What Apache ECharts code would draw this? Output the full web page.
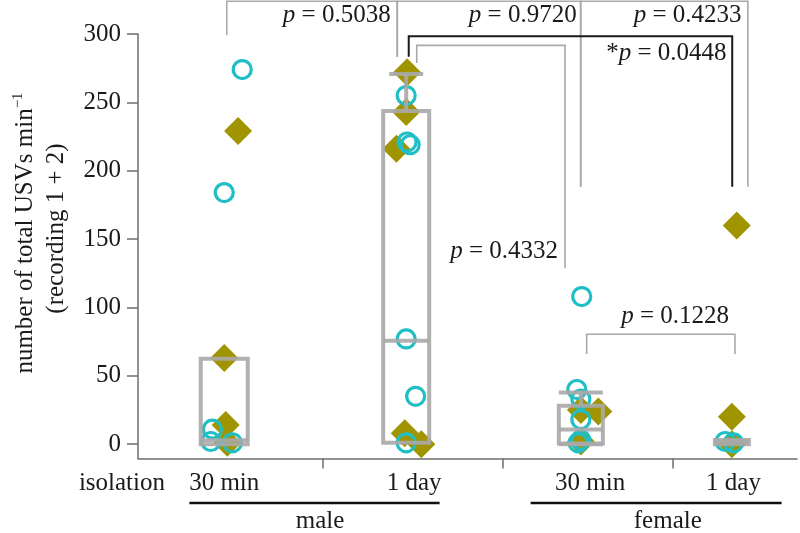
<!DOCTYPE html>
<html><head><meta charset="utf-8">
<script src="https://cdn.jsdelivr.net/npm/echarts@6/dist/echarts.min.js"></script>
<style>html,body{margin:0;padding:0;background:#fff}#c{width:800px;height:533px}</style>
</head><body><div id="c"></div>
<script>
// ---- categories / axis ----
const groupNames = ['30 min', '1 day', '30 min', '1 day'];
const groupX = [1, 2, 2.96, 3.79];
const labelX = [1, 2.044, 3.011, 3.799];
const tickX = [1.539, 2.533, 3.465];
const yTicks = [0, 50, 100, 150, 200, 250, 300];

// ---- open circles ----
const circleGroup  = [0, 0, 0, 0, 0,   1, 1, 1, 1, 1, 1,   2, 2, 2, 2, 2, 2,   3, 3];
const circleValue  = [274, 184, 11, 2, 1,   255, 221, 219, 77, 35, 1,   108, 40, 33, 18, 3, 1,   2, 1];
const circleJitter = [0.099, 0, -0.065, -0.074, 0.045,   0, 0.005, 0.022, 0, 0.052, 0,   0.005, -0.022, 0, 0, 0, -0.015,   -0.037, 0.009];

// ---- diamonds ----
const diamondGroup  = [0, 0, 0, 0,   1, 1, 1, 1, 1,   2, 2, 2,   3, 3, 3];
const diamondValue  = [229, 63, 14, 1,   272, 243, 216, 8, 0,   25, 24, 2,   160, 20, 0];
const diamondJitter = [0.076, 0, 0.008, 0.017,   0.005, 0, -0.054, -0.008, 0.083,   0, 0.096, 0,   0.027, 0, 0];

// ---- box statistics ----
const boxLow  = [0, 1, 0, 0];
const boxQ1   = [0, 1, 0.5, 0];
const boxMed  = [2.9, 75.7, 10.7, 2];
const boxQ3   = [62.5, 243.7, 28.2, 3];
const boxHigh = [62.5, 270.8, 37.9, 3];

// ---- significance brackets (data units) ----
const bracketX1   = [1.014, 1.951, 2.959, 2.014, 2.058, 2.992];
const bracketX2   = [1.951, 2.959, 3.878, 3.792, 2.873, 3.807];
const bracketTop  = [324, 324, 324, 298.3, 291.7, 80.4];
const bracketEnd1 = [299.3, 283.2, 188.3, 283.4, 278.8, 66];
const bracketEnd2 = [283.2, 188.3, 188.3, 188.3, 128.6, 66];
const bracketDark = [false, false, false, true, false, false];

// ---- p-value labels ----
const pValue = ['0.5038', '0.9720', '0.4233', '0.0448', '0.4332', '0.1228'];
const pStar  = ['', '', '', '*', '', ''];
const pX     = [1.915, 2.937, 3.843, 3.761, 2.835, 3.478];
const pY     = [313.9, 313.9, 313.9, 285.9, 140.8, 93.2];
const pAlign = ['right', 'right', 'right', 'right', 'right', 'center'];

// ---- styles ----
const FONT = "'Liberation Serif', 'Times New Roman', serif";
const FS = 25;
const TXT = '#1a1a1a';
const AXIS = '#6e6e6e';
const GRAY = '#a9a9a9';
const CYAN = '#1fbfc5';
const OLIVE = '#a09400';
const BOX_W = [47, 46, 44, 34];
const CAP_W = [47, 34, 44, 34];

const chart = echarts.init(document.getElementById('c'), null, {renderer: 'canvas'});

const circleData = circleValue.map((v, i) => [groupX[circleGroup[i]] + circleJitter[i], v]);
const diamondData = diamondValue.map((v, i) => [groupX[diamondGroup[i]] + diamondJitter[i], v]);
const boxData = groupX.map((x, i) => [x, boxLow[i], boxQ1[i], boxMed[i], boxQ3[i], boxHigh[i], i]);
const bracketData = bracketX1.map((x, i) => [x, bracketTop[i], i]);
const labelData = pX.map((x, i) => [x, pY[i], i]);

function renderBox(params, api) {
  const i = api.value(6);
  const x = api.value(0);
  const pl = api.coord([x, api.value(1)]);
  const p1 = api.coord([x, api.value(2)]);
  const pm = api.coord([x, api.value(3)]);
  const p3 = api.coord([x, api.value(4)]);
  const ph = api.coord([x, api.value(5)]);
  const cx = pm[0], w = BOX_W[i] / 2, cw = CAP_W[i] / 2;
  const st = {stroke: GRAY, lineWidth: 4, fill: null, opacity: 0.9};
  const children = [
    {type: 'rect', shape: {x: cx - w, y: p3[1], width: 2 * w, height: p1[1] - p3[1]}, style: st},
    {type: 'line', shape: {x1: cx - w, y1: pm[1], x2: cx + w, y2: pm[1]}, style: st}
  ];
  if (ph[1] < p3[1] - 0.5) {
    children.push({type: 'line', shape: {x1: cx, y1: p3[1], x2: cx, y2: ph[1]}, style: st});
    children.push({type: 'line', shape: {x1: cx - cw, y1: ph[1], x2: cx + cw, y2: ph[1]}, style: st});
  }
  if (pl[1] > p1[1] + 0.5) {
    children.push({type: 'line', shape: {x1: cx, y1: p1[1], x2: cx, y2: pl[1]}, style: st});
    children.push({type: 'line', shape: {x1: cx - cw, y1: pl[1], x2: cx + cw, y2: pl[1]}, style: st});
  }
  return {type: 'group', children};
}

function renderBracket(params, api) {
  const i = api.value(2);
  const a = api.coord([bracketX1[i], bracketEnd1[i]]);
  const b = api.coord([bracketX1[i], bracketTop[i]]);
  const c = api.coord([bracketX2[i], bracketTop[i]]);
  const d = api.coord([bracketX2[i], bracketEnd2[i]]);
  return {
    type: 'polyline',
    shape: {points: [a, b, c, d]},
    style: {stroke: bracketDark[i] ? '#1a1a1a' : GRAY, lineWidth: bracketDark[i] ? 2 : 1.6, fill: null}
  };
}

function renderLabel(params, api) {
  const i = api.value(2);
  const p = api.coord([api.value(0), api.value(1)]);
  return {
    type: 'text', x: p[0], y: p[1],
    style: {
      text: pStar[i] + '{i|p} = ' + pValue[i],
      fontFamily: FONT, fontSize: FS, fill: TXT,
      align: pAlign[i], verticalAlign: 'middle',
      rich: {i: {fontStyle: 'italic', fontFamily: FONT, fontSize: FS, fill: TXT}}
    }
  };
}

chart.setOption({
  animation: false,
  backgroundColor: '#fff',
  grid: {left: 138, right: 3, top: 34, bottom: 74.5, containLabel: false},
  xAxis: {
    type: 'value', min: 0.526, max: 4.148,
    axisLine: {show: true, onZero: false, lineStyle: {color: AXIS, width: 1.5}},
    axisTick: {show: true, length: 10, customValues: tickX, lineStyle: {color: AXIS, width: 1.5}},
    axisLabel: {
      customValues: labelX, margin: 12, fontSize: FS, fontFamily: FONT, color: TXT,
      formatter: function (v) {
        let k = 0, best = 1e9;
        labelX.forEach((p, j) => { if (Math.abs(p - v) < best) { best = Math.abs(p - v); k = j; } });
        return groupNames[k];
      }
    },
    splitLine: {show: false}
  },
  yAxis: {
    type: 'value', min: -10.45, max: 300,
    axisLine: {show: true, onZero: false, lineStyle: {color: AXIS, width: 1.5}},
    axisTick: {show: true, length: 11, customValues: yTicks, lineStyle: {color: AXIS, width: 1.5}},
    axisLabel: {customValues: yTicks, margin: 17, fontSize: FS, fontFamily: FONT, color: TXT},
    splitLine: {show: false}
  },
  graphic: [
    {type: 'text', x: 25.5, y: 233, rotation: Math.PI / 2,
      style: {text: 'number of total USVs min{s|−1}', fontFamily: FONT, fontSize: FS, fill: TXT,
        align: 'center', verticalAlign: 'middle', lineHeight: 30,
        rich: {s: {fontSize: 15, fontFamily: FONT, fill: TXT, verticalAlign: 'top', lineHeight: 30}}}},
    {type: 'text', x: 56, y: 228.5, rotation: Math.PI / 2,
      style: {text: '(recording 1 + 2)', fontFamily: FONT, fontSize: FS, fill: TXT,
        align: 'center', verticalAlign: 'middle'}},
    {type: 'text', x: 165, y: 483, style: {text: 'isolation', fontFamily: FONT, fontSize: FS, fill: TXT, align: 'right', verticalAlign: 'middle'}},
    {type: 'line', shape: {x1: 189.4, y1: 503, x2: 439.6, y2: 503}, style: {stroke: '#111', lineWidth: 2.5}},
    {type: 'line', shape: {x1: 530.6, y1: 503, x2: 781.6, y2: 503}, style: {stroke: '#111', lineWidth: 2.5}},
    {type: 'text', x: 320, y: 521, style: {text: 'male', fontFamily: FONT, fontSize: FS, fill: TXT, align: 'center', verticalAlign: 'middle'}},
    {type: 'text', x: 667.8, y: 521, style: {text: 'female', fontFamily: FONT, fontSize: FS, fill: TXT, align: 'center', verticalAlign: 'middle'}}
  ],
  series: [
    {type: 'scatter', name: 'diamond', data: diamondData, symbol: 'diamond', symbolSize: 28,
      itemStyle: {color: OLIVE, opacity: 1}, z: 2, silent: true},
    {type: 'scatter', name: 'circle', data: circleData, symbol: 'circle', symbolSize: 18,
      itemStyle: {color: 'rgba(0,0,0,0)', borderColor: CYAN, borderWidth: 3.2, opacity: 1}, z: 3, silent: true},
    {type: 'custom', name: 'box', data: boxData, renderItem: renderBox, z: 4, silent: true,
      encode: {x: 0, y: 3}},
    {type: 'custom', name: 'bracket', data: bracketData, renderItem: renderBracket, clip: false, z: 5, silent: true,
      encode: {x: 0, y: 1}},
    {type: 'custom', name: 'plabel', data: labelData, renderItem: renderLabel, clip: false, z: 6, silent: true,
      encode: {x: 0, y: 1}}
  ]
});
</script>
</body></html>
